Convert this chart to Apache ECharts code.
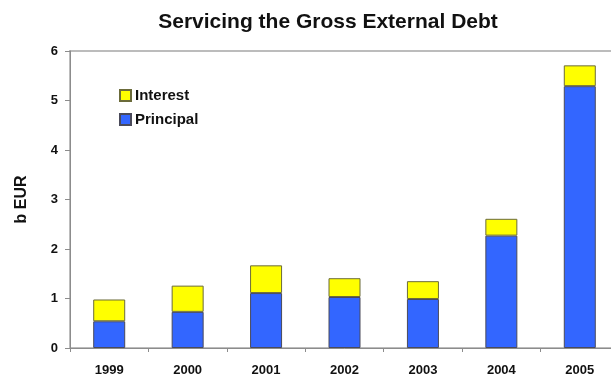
<!DOCTYPE html>
<html>
<head>
<meta charset="utf-8">
<script src="https://cdn.jsdelivr.net/npm/echarts@6/dist/echarts.min.js"></script>
<style>
  html, body { margin: 0; padding: 0; background: #fff; overflow: hidden; }
  /* the plot area runs a little past the right edge of the window */
  #chart { width: 620px; height: 378px; }
</style>
</head>
<body>
<div id="chart"></div>
<script>
// Debt service by year, billions of EUR
const years = ['1999', '2000', '2001', '2002', '2003', '2004', '2005'];
const principal = [0.54, 0.73, 1.11, 1.03, 0.99, 2.27, 5.29];
const interest = [0.44, 0.53, 0.56, 0.38, 0.36, 0.34, 0.42];
const yTicks = [0, 1, 2, 3, 4, 5, 6];

const font = 'Arial, "Liberation Sans", sans-serif';
const chart = echarts.init(document.getElementById('chart'));

chart.setOption({
  animation: false,
  backgroundColor: '#ffffff',
  title: {
    text: 'Servicing the Gross External Debt',
    left: 323,
    textAlign: 'center',
    top: 7,
    textStyle: { fontFamily: font, fontWeight: 'bold', fontSize: 21, color: '#111' }
  },
  legend: {
    orient: 'vertical',
    left: 114,
    top: 83,
    itemWidth: 11,
    itemHeight: 11,
    itemGap: 9,
    icon: 'rect',
    data: ['Interest', 'Principal'],
    textStyle: { fontFamily: font, fontWeight: 'bold', fontSize: 15, color: '#111', padding: [0, 0, 0, -1] }
  },
  grid: {
    left: 70,
    top: 51,
    right: 1,
    bottom: 30,
    show: true,
    borderColor: '#bcbcbc',
    borderWidth: 2
  },
  xAxis: {
    type: 'category',
    data: years,
    axisLine: { lineStyle: { color: '#8c8c8c', width: 1 } },
    axisTick: { show: true, length: 4, lineStyle: { color: '#8c8c8c' } },
    axisLabel: { fontFamily: font, fontWeight: 'bold', fontSize: 13, color: '#111', margin: 16 }
  },
  yAxis: {
    type: 'value',
    min: yTicks[0],
    max: yTicks[yTicks.length - 1],
    interval: 1,
    name: 'b EUR',
    nameLocation: 'middle',
    nameGap: 40,
    nameTextStyle: { fontFamily: font, fontWeight: 'bold', fontSize: 16, color: '#111' },
    axisLine: { show: true, lineStyle: { color: '#8c8c8c', width: 1 } },
    axisTick: { show: true, length: 5, lineStyle: { color: '#8c8c8c' } },
    splitLine: { show: false },
    axisLabel: { fontFamily: font, fontWeight: 'bold', fontSize: 13, color: '#111', margin: 12 }
  },
  series: [
    {
      name: 'Principal',
      type: 'bar',
      stack: 'debt',
      data: principal,
      barWidth: 32,
      itemStyle: { color: '#3366ff', borderColor: '#4a4a5a', borderWidth: 1 }
    },
    {
      name: 'Interest',
      type: 'bar',
      stack: 'debt',
      data: interest,
      barWidth: 32,
      itemStyle: { color: '#ffff00', borderColor: '#6b6b3a', borderWidth: 1 }
    }
  ]
});
</script>
</body>
</html>
